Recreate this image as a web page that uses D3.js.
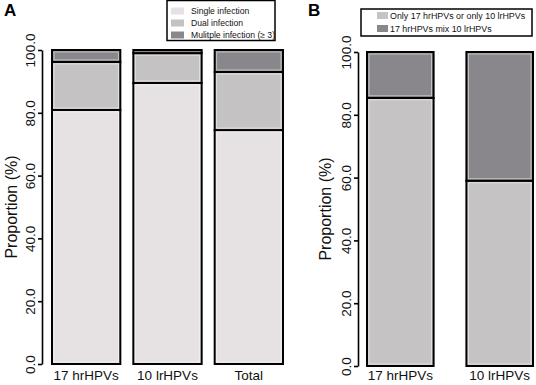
<!DOCTYPE html>
<html>
<head>
<meta charset="utf-8">
<script src="https://cdn.jsdelivr.net/npm/d3@7"></script>
<style>
  body { margin: 0; background: #fff; }
  svg { font-family: "Liberation Sans", Arial, sans-serif; }
</style>
</head>
<body>
<script>
// panel A data
var groupsA = ["17 hrHPVs", "10 lrHPVs", "Total"];
var single = [80.9, 89.5, 74.5];
var dual = [15.3, 9.5, 18.5];
var multiple = [3.8, 1.0, 7.0];
var seriesA = ["Single infection", "Dual infection", "Mulitple infection (\u2265 3)"];

// panel B data
var groupsB = ["17 hrHPVs", "10 lrHPVs"];
var onlyOne = [85.4, 59.0];
var mixed = [14.6, 41.0];
var seriesB = ["Only 17 hrHPVs or only 10 lrHPVs", "17 hrHPVs  mix 10 lrHPVs"];

var yTicks = [0, 20, 40, 60, 80, 100];

var colA = ["#e6e1e2", "#c5c2c3", "#89878b"];
var colB = ["#c6c3c4", "#89878b"];

var svg = d3.select("body").append("svg")
    .attr("width", 536)
    .attr("height", 385);

function panel(opt) {
    var g = svg.append("g");
    var y = d3.scaleLinear().domain([0, 100]).range([opt.y0, opt.y1]);
    var x = d3.scaleBand().domain(opt.groups).range(opt.xr).paddingInner(opt.pad);

    // stacked layout
    var rows = opt.groups.map(function (name, i) {
        var r = { name: name };
        opt.keys.forEach(function (k, j) { r[k] = opt.values[j][i]; });
        return r;
    });
    var stack = d3.stack().keys(opt.keys)(rows);

    stack.forEach(function (layer, j) {
        var segs = g.selectAll(null).data(layer).enter();
        segs.append("rect")
            .attr("x", function (d) { return x(d.data.name); })
            .attr("y", function (d) { return y(d[1]); })
            .attr("width", x.bandwidth())
            .attr("height", function (d) { return y(d[0]) - y(d[1]); })
            .attr("fill", opt.colors[j])
            .attr("stroke", "#000")
            .attr("stroke-width", 2);
        // thin white inner line like the original
        segs.append("rect")
            .attr("x", function (d) { return x(d.data.name) + 2; })
            .attr("y", function (d) { return y(d[1]) + 2; })
            .attr("width", x.bandwidth() - 4)
            .attr("height", function (d) { return Math.max(0, y(d[0]) - y(d[1]) - 4); })
            .attr("fill", "none")
            .attr("stroke", "#fff")
            .attr("stroke-opacity", 0.6)
            .attr("stroke-width", 0.8);
    });

    // y axis
    var axis = g.append("g")
        .attr("transform", "translate(" + opt.axisX + ",0)")
        .call(d3.axisLeft(y).tickValues(yTicks).tickSize(4).tickSizeOuter(0)
            .tickFormat(d3.format(".1f")));
    axis.select(".domain").attr("stroke-width", 1.6);
    axis.selectAll(".tick line").attr("stroke-width", 1.6);
    axis.selectAll(".tick text")
        .attr("font-family", "'Liberation Sans', Arial, sans-serif")
        .attr("font-size", 13.5)
        .attr("fill", "#111")
        .attr("x", null).attr("dy", null)
        .attr("text-anchor", "middle")
        .attr("transform", "translate(-7,0) rotate(-90)");

    g.append("text")
        .attr("transform", "translate(" + opt.titleX + "," + ((opt.y0 + opt.y1) / 2) + ") rotate(-90)")
        .attr("text-anchor", "middle")
        .attr("font-size", 16)
        .attr("fill", "#111")
        .text("Proportion (%)");

    // x labels
    g.selectAll(null).data(opt.groups).enter().append("text")
        .attr("x", function (d) { return x(d) + x.bandwidth() / 2; })
        .attr("y", 380)
        .attr("text-anchor", "middle")
        .attr("font-size", 13.5)
        .attr("fill", "#111")
        .text(function (d) { return d; });

    // panel letter
    g.append("text")
        .attr("x", opt.letterX).attr("y", 16)
        .attr("font-size", 17).attr("font-weight", "bold")
        .text(opt.letter);

    // legend
    var lg = g.append("g");
    lg.append("rect")
        .attr("x", opt.leg.x).attr("y", opt.leg.y)
        .attr("width", opt.leg.w).attr("height", opt.leg.h)
        .attr("fill", "#fff").attr("stroke", "#000").attr("stroke-width", 1.5);
    opt.names.forEach(function (n, j) {
        var ry = opt.leg.y + opt.leg.row0 + j * opt.leg.step;
        lg.append("rect")
            .attr("x", opt.leg.x + opt.leg.sx).attr("y", ry - 3.5)
            .attr("width", opt.leg.sw).attr("height", 7)
            .attr("fill", opt.colors[j]);
        lg.append("text")
            .attr("x", opt.leg.x + opt.leg.tx).attr("y", ry + 3.2)
            .attr("font-size", opt.leg.fs)
            .attr("fill", "#111")
            .text(n);
    });
}

panel({
    groups: groupsA, keys: ["s", "d", "m"], values: [single, dual, multiple],
    colors: colA, names: seriesA,
    y0: 364, y1: 50, xr: [52, 283], pad: 0.16,
    axisX: 42, titleX: 17, letter: "A", letterX: 4,
    leg: { x: 167, y: 0.5, w: 108, h: 40, row0: 10.5, step: 12, sx: 4, sw: 13, tx: 24, fs: 8.6 }
});

panel({
    groups: groupsB, keys: ["o", "x"], values: [onlyOne, mixed],
    colors: colB, names: seriesB,
    y0: 366, y1: 52, xr: [367, 533], pad: 0.33,
    axisX: 358, titleX: 331, letter: "B", letterX: 308,
    leg: { x: 361, y: 9, w: 171, h: 27, row0: 6.5, step: 13, sx: 16, sw: 11, tx: 29, fs: 8.9 }
});
</script>
</body>
</html>
